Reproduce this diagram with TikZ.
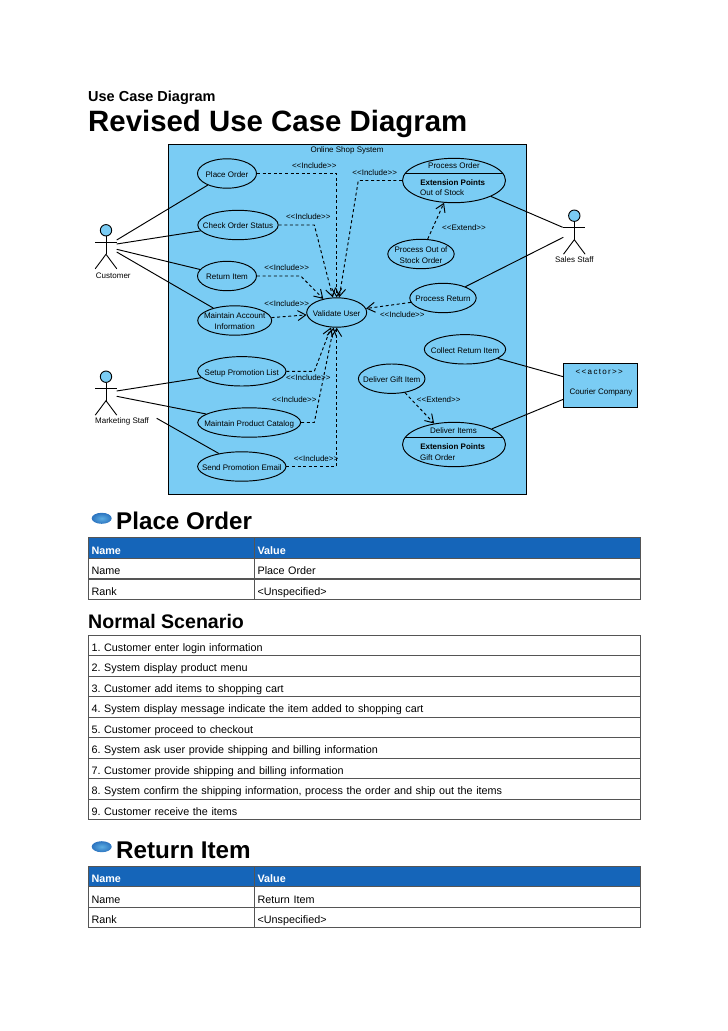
\documentclass[tikz,border=0pt]{standalone}
\usepackage{fontspec}
\setmainfont{Liberation Sans}
\usetikzlibrary{shapes.geometric,arrows.meta}
\definecolor{systemblue}{HTML}{7ACCF4}
\definecolor{headblue}{HTML}{1565B9}
\definecolor{rulegray}{HTML}{555555}
\newcommand{\uctext}[1]{\smash{\makebox[0pt]{\raisebox{-.45em}{\begin{tabular}{@{}c@{}}#1\end{tabular}}}}}
\newcommand{\incl}{<{}<Include>{}>}
\newcommand{\extd}{<{}<Extend>{}>}
\frenchspacing
\tikzset{
    usecase/.style={draw,ellipse,fill=systemblue,line width=0.95pt,inner sep=0pt,minimum height=29.4pt,font=\fontsize{8}{11}\selectfont},
    smalltext/.style={inner sep=0pt,font=\fontsize{8}{11}\selectfont},
    assoc/.style={line width=0.95pt},
    inclink/.style={line width=0.95pt,dash pattern=on 3pt off 2.6pt,-{Straight Barb[length=8pt,width=10pt]}},
    actorline/.style={line width=0.9pt},
    actorhead/.style={draw,circle,fill=systemblue,line width=0.9pt,inner sep=0pt,minimum size=11.4pt},
    bullet/.style={ellipse,inner sep=0pt,minimum width=20pt,minimum height=11pt,inner color=systemblue!70!headblue,outer color=headblue!90},
    cell/.style={draw=rulegray,line width=0.7pt,anchor=north west,inner xsep=3.5pt,inner ysep=0pt,minimum height=20.4pt,text height=14pt,text depth=1.6pt,align=left,font=\fontsize{10.8}{13}\selectfont},
    headcell/.style={cell,fill=headblue,text=white,font=\fontsize{10.8}{13}\selectfont\bfseries},
    namecol/.style={text width=159pt},
    valcol/.style={text width=379.3pt},
    fullcol/.style={text width=545.3pt},
}
\begin{document}
\begin{tikzpicture}[x=1pt,y=-1pt]
    \useasboundingbox (0,0) rectangle (728,1031);
    % titles:
    \node[anchor=base west,inner sep=0pt,font=\fontsize{14.5}{16}\selectfont\bfseries] (chapter) at (88,101) {Use Case Diagram};
    \node[anchor=base west,inner sep=0pt,font=\fontsize{29.4}{32}\selectfont\bfseries] (title) at (88,131.5) {Revised Use Case Diagram};
    % system box:
    \node[draw,fill=systemblue,line width=0.9pt,minimum width=358pt,minimum height=349.7pt,anchor=north west,inner sep=0pt] (system) at (168.3,144.3) {};
    \node[smalltext] (systemname) at (347,150) {Online Shop System};
    % use cases:
    \node[usecase,minimum width=59pt] (placeorder) at (227,173.5) {\uctext{Place Order}};
    \node[usecase,minimum width=80.4pt] (checkstatus) at (238,225) {\uctext{Check Order Status}};
    \node[usecase,minimum width=59pt] (returnitem) at (227,276) {\uctext{Return Item}};
    \node[usecase,minimum width=74pt] (maintainaccount) at (234.7,320.5) {\uctext{Maintain Account\\Information}};
    \node[usecase,minimum width=60pt] (validate) at (336.7,312.5) {\uctext{Validate User}};
    \node[usecase,minimum width=66.4pt] (outofstock) at (421,254) {\uctext{Process Out of\\Stock Order}};
    \node[usecase,minimum width=66.4pt] (processreturn) at (443,298) {\uctext{Process Return}};
    \node[usecase,minimum width=81.4pt] (collect) at (465,349.3) {\uctext{Collect Return Item}};
    \node[usecase,minimum width=66.6pt] (giftitem) at (391.7,378.7) {\uctext{Deliver Gift Item}};
    \node[usecase,minimum width=88.4pt] (setuplist) at (241.8,371.3) {\uctext{Setup Promotion List}};
    \node[usecase,minimum width=103pt] (catalog) at (249.2,422.5) {\uctext{Maintain Product Catalog}};
    \node[usecase,minimum width=88.4pt] (sendmail) at (241.8,466.5) {\uctext{Send Promotion Email}};
    % use cases with extension points:
    \node[usecase,minimum width=103pt,minimum height=44.4pt] (processorder) at (454,180.5) {};
    \draw[line width=0.5pt] (processorder.center) ++(-48.7,-7.2) -- ++(97.4,0);
    \node[smalltext] (processordername) at (454,166) {Process Order};
    \node[smalltext,font=\fontsize{8}{11}\selectfont\bfseries] (processorderext) at (452.7,182.3) {Extension Points};
    \node[smalltext,anchor=west] (outofstockpoint) at (420,193) {Out of Stock};
    \node[usecase,minimum width=103pt,minimum height=44.4pt] (deliver) at (454,444.5) {};
    \draw[line width=0.8pt] (deliver.center) ++(-48.7,-7.2) -- ++(97.4,0);
    \node[smalltext] (delivername) at (453.5,430.3) {Deliver Items};
    \node[smalltext,font=\fontsize{8}{11}\selectfont\bfseries] (deliverext) at (452.7,446.3) {Extension Points};
    \node[smalltext,anchor=west] (giftpoint) at (420,457.3) {Gift Order};
    % actors:
    \foreach \ax/\ay/\aname in {106/230.3/customer,574.3/215.7/sales,106/376.7/marketing} {
        \node[actorhead] (\aname head) at (\ax,\ay) {};
        \coordinate (\aname hip) at (\ax,\ay+24);
        \draw[actorline] (\aname head) -- (\aname hip);
        \draw[actorline] (\ax-11,\ay+12) -- (\ax+11,\ay+12);
        \draw[actorline] (\ax-10.8,\ay+38.5) -- (\aname hip) -- (\ax+10.8,\ay+38.5);
    }
    \node[smalltext] (customername) at (113.3,275.3) {Customer};
    \node[smalltext] (salesname) at (574.3,260) {Sales Staff};
    \node[smalltext] (marketingname) at (122,421) {Marketing Staff};
    % courier:
    \node[draw,fill=systemblue,line width=0.9pt,minimum width=73.4pt,minimum height=44pt,anchor=north west,inner sep=0pt] (courier) at (563.3,363.3) {};
    \node[smalltext] (courierstereo) at (599.3,371.7) {<\,<\,a\,c\,t\,o\,r\,>\,>};
    \node[smalltext] (couriername) at (601,392.3) {Courier Company};
    % free ends at the actors:
    \coordinate (customerA) at (116.7,240);
    \coordinate (customerB) at (116.7,244);
    \coordinate (customerC) at (116.7,249.3);
    \coordinate (customerD) at (116.7,252);
    \coordinate (salesA) at (562.7,227.3);
    \coordinate (salesB) at (563.3,237.3);
    \coordinate (marketingA) at (116.7,391);
    \coordinate (marketingB) at (116.7,396.3);
    \coordinate (marketingC) at (156.7,418.3);
    \coordinate (courierA) at (563.3,376.7);
    \coordinate (courierB) at (563.3,399.3);
    % associations:
    \draw[assoc] (customerA) -- (placeorder);
    \draw[assoc] (customerB) -- (checkstatus);
    \draw[assoc] (customerC) -- (returnitem);
    \draw[assoc] (customerD) -- (maintainaccount);
    \draw[assoc] (salesA) -- (processorder);
    \draw[assoc] (salesB) -- (processreturn);
    \draw[assoc] (marketingA) -- (setuplist);
    \draw[assoc] (marketingB) -- (catalog);
    \draw[assoc] (marketingC) -- (sendmail);
    \draw[assoc] (courierA) -- (collect);
    \draw[assoc] (courierB) -- (deliver);
    % bends of the dashed lines:
    \coordinate (checkbend) at (314.3,225);
    \coordinate (returnbend) at (300.7,276);
    \coordinate (orderbend) at (358.3,180.5);
    \coordinate (setupbend) at (314.3,371.3);
    \coordinate (catalogbend) at (314.3,422.5);
    % include and extend:
    \draw[inclink] (placeorder) -| (validate);
    \draw[inclink] (checkstatus) -- (checkbend) -- (validate);
    \draw[inclink] (returnitem) -- (returnbend) -- (validate);
    \draw[inclink] (maintainaccount) -- (validate);
    \draw[inclink] (processorder) -- (orderbend) -- (validate);
    \draw[inclink] (processreturn) -- (validate);
    \draw[inclink] (setuplist) -- (setupbend) -- (validate);
    \draw[inclink] (catalog) -- (catalogbend) -- (validate);
    \draw[inclink] (sendmail) -| (validate);
    \draw[inclink] (outofstock) -- (processorder);
    \draw[inclink] (giftitem) -- (deliver);
    % labels of the dashed lines:
    \foreach \lx/\ly/\lname in {314.3/165.7/a,374.7/172.3/b,308.3/216.7/c,286.7/267.7/d,286.7/304/e,402.3/314.7/f,308.3/377.3/g,294.3/399.3/h,316/458.3/i} {
        \node[smalltext] (incl\lname) at (\lx,\ly) {\incl};
    }
    \node[smalltext] (extendstock) at (464,227.3) {\extd};
    \node[smalltext] (extendgift) at (438.7,399.7) {\extd};
    % section headings:
    \node[bullet] (placeicon) at (101.7,518.3) {};
    \node[anchor=base west,inner sep=0pt,font=\fontsize{24.2}{26}\selectfont\bfseries] (placehead) at (116,529) {Place Order};
    \node[anchor=base west,inner sep=0pt,font=\fontsize{19.6}{22}\selectfont\bfseries] (scenariohead) at (88,628) {Normal Scenario};
    \node[bullet] (returnicon) at (101.7,846.7) {};
    \node[anchor=base west,inner sep=0pt,font=\fontsize{24.2}{26}\selectfont\bfseries] (returnhead) at (116,858.3) {Return Item};
    % property tables:
    \foreach \tname/\ty/\tp/\tval in {place/537.3/20.7/Place Order,back/866/20.4/Return Item} {
        \node[headcell,namecol] (\tname A) at (87.7,\ty) {Name};
        \node[headcell,valcol] (\tname B) at (253.7,\ty) {Value};
        \node[cell,namecol] (\tname C) at (87.7,\ty+\tp) {Name};
        \node[cell,valcol] (\tname D) at (253.7,\ty+\tp) {\tval};
        \node[cell,namecol] (\tname E) at (87.7,\ty+2*\tp) {Rank};
        \node[cell,valcol] (\tname F) at (253.7,\ty+2*\tp) {<Unspecified>};
    }
    % scenario:
    \foreach \i/\step in {0/{1. Customer enter login information},
                          1/{2. System display product menu},
                          2/{3. Customer add items to shopping cart},
                          3/{4. System display message indicate the item added to shopping cart},
                          4/{5. Customer proceed to checkout},
                          5/{6. System ask user provide shipping and billing information},
                          6/{7. Customer provide shipping and billing information},
                          7/{8. System confirm the shipping information, process the order and ship out the items},
                          8/{9. Customer receive the items}} {
        \node[cell,fullcol] (scenario\i) at (87.7,634.7+20.5*\i) {\step};
    }
\end{tikzpicture}
\end{document}
